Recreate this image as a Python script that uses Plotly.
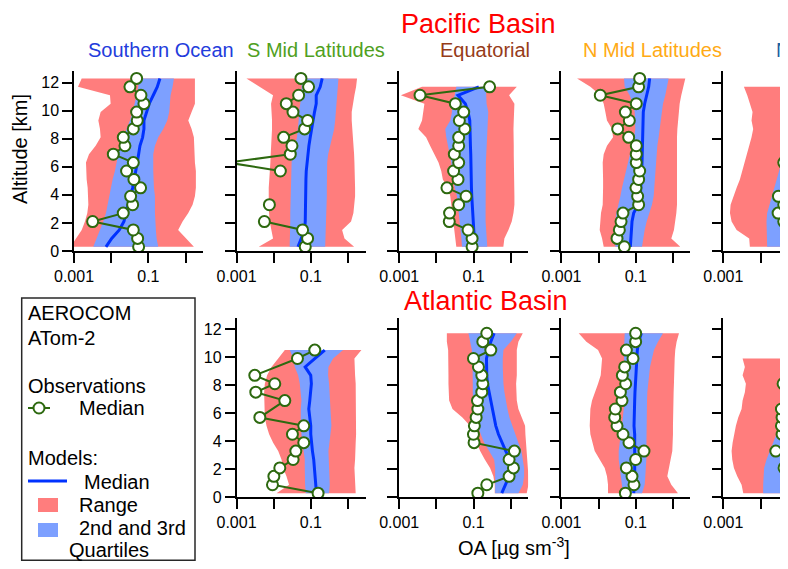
import plotly.graph_objects as go

# The page adds an 8 px body margin, so the figure is 16 px smaller than the window
W, H = 772, 553
OFF = 8
N = None
ALT = [0.3, 0.9, 1.5, 2.1, 2.7, 3.3, 3.9, 4.5, 5.1, 5.7, 6.3, 6.9, 7.5, 8.1, 8.7, 9.3, 9.9, 10.5, 11.1, 11.7, 12.3]

# ---------------- Pacific Basin ----------------
# Southern Ocean
pso_min = [0.0008, 0.0011, 0.00161, 0.00197, 0.00228, 0.00243, 0.00243, 0.00233, 0.00219, 0.0021, 0.0021, 0.00253, 0.00382, 0.0052, 0.00499, 0.00451, 0.0052, 0.00966, 0.00927, 0.00128, 0.00161]
pso_q1 = [0.0033, 0.00424, 0.00499, 0.00614, 0.00723, 0.00786, 0.00889, 0.00986, 0.0109, 0.0126, 0.014, 0.0155, 0.0172, 0.0211, 0.0259, 0.0319, 0.0377, 0.0435, 0.0482, 0.0535, 0.0535]
pso_med = [0.00723, 0.0103, 0.0165, 0.022, 0.0249, 0.0288, 0.0333, 0.0377, 0.0417, 0.0462, 0.0502, 0.0546, 0.0593, 0.0698, 0.0759, 0.0759, 0.0895, 0.105, 0.135, 0.173, 0.204]
pso_q3 = [0.184, 0.166, 0.159, 0.153, 0.150, 0.150, 0.150, 0.141, 0.135, 0.135, 0.135, 0.135, 0.150, 0.184, 0.251, 0.321, 0.363, 0.379, 0.395, 0.447, 0.485]
pso_max = [1.67, 1.02, 0.63, 0.83, 1.18, 1.54, 1.78, 1.89, 1.89, 1.89, 1.78, 1.72, 1.67, 1.67, 1.45, 1.18, 1.45, 1.78, 1.78, 1.78, 1.78]
pso_obs = [0.0546, 0.0513, 0.0393, 0.00317, 0.0211, 0.0377, 0.0333, 0.0617, 0.0408, 0.0259, 0.0393, 0.0114, 0.0234, 0.0211, 0.0393, 0.0502, 0.0482, 0.0759, 0.063, 0.0319, 0.0482]

# S Mid Latitudes
psm_min = [0.00396, 0.0096, 0.00866, 0.00781, 0.0075, 0.00735, 0.00735, 0.00735, 0.0075, 0.00781, 0.00814, 0.00831, 0.00849, 0.00866, 0.00902, 0.00902, 0.00884, 0.00849, 0.0096, 0.0044, 0.00185]
psm_q1 = [0.0268, 0.0268, 0.0279, 0.0279, 0.0279, 0.0285, 0.0285, 0.0291, 0.0291, 0.0297, 0.0303, 0.0316, 0.0365, 0.0422, 0.0449, 0.0468, 0.0477, 0.0518, 0.0551, 0.0574, 0.0574]
psm_med = [0.0449, 0.0551, 0.0676, 0.0705, 0.0705, 0.0705, 0.0719, 0.0719, 0.0735, 0.075, 0.0781, 0.0832, 0.0884, 0.096, 0.104, 0.113, 0.125, 0.139, 0.139, 0.178, 0.201]
psm_q3 = [0.242, 0.247, 0.258, 0.258, 0.263, 0.268, 0.268, 0.268, 0.268, 0.268, 0.274, 0.291, 0.330, 0.373, 0.422, 0.449, 0.468, 0.497, 0.508, 0.529, 0.551]
psm_max = [1.45, 0.80, 0.69, 1.2, 1.39, 1.48, 1.54, 1.54, 1.54, 1.51, 1.48, 1.45, 1.39, 1.33, 1.28, 1.25, 1.25, 1.33, 1.48, 1.64, 1.74]
psm_obs = [0.0705, 0.0815, 0.0598, 0.00562, N, 0.00766, N, N, N, 0.0151, 0.0006, 0.0279, 0.031, 0.0185, 0.0676, 0.0815, 0.033, 0.0218, 0.0468, 0.0866, 0.054]

# Equatorial
peq_min = [0.0343, 0.033, 0.031, 0.029, 0.0267, 0.0251, 0.0236, 0.0204, 0.0149, 0.0135, 0.0114, 0.0089, 0.00678, 0.00528, 0.00327, 0.00411, 0.00447, 0.00476, 0.00111, 0.00411, N]
peq_q1 = [0.0489, 0.0469, 0.0441, 0.0423, 0.0406, 0.0381, 0.0358, 0.031, 0.0279, 0.0262, 0.0251, 0.0226, 0.0204, 0.0184, 0.0173, 0.0236, 0.0262, 0.0262, 0.031, 0.0343, N]
peq_med = [0.101, 0.105, 0.101, 0.0971, 0.0931, 0.0912, 0.0893, 0.0875, 0.0875, 0.0857, 0.0839, 0.0839, 0.0822, 0.0822, 0.0789, 0.0789, 0.0711, 0.06, 0.038, 0.138, N]
peq_q3 = [0.233, 0.223, 0.214, 0.21, 0.21, 0.21, 0.205, 0.205, 0.205, 0.21, 0.214, 0.219, 0.223, 0.233, 0.233, 0.238, 0.248, 0.223, 0.214, 0.214, N]
peq_max = [0.631, 0.672, 0.863, 1.06, 1.18, 1.25, 1.25, 1.23, 1.23, 1.2, 1.2, 1.2, 1.2, 1.18, 1.18, 1.2, 1.25, 1.25, 0.899, 1.45, N]
peq_obs = [0.0912, 0.0912, 0.0711, 0.0222, 0.0226, 0.0397, 0.0628, 0.0192, 0.0381, 0.029, 0.0397, 0.0303, 0.0397, 0.0397, 0.0578, 0.0414, 0.0542, 0.0323, 0.00363, 0.269, N]

# N Mid Latitudes
pnm_min = [0.0137, 0.0124, 0.0107, 0.0111, 0.0116, 0.0129, 0.0132, 0.0132, 0.0132, 0.0132, 0.0129, 0.0137, 0.0168, 0.0244, 0.023, 0.0168, 0.0152, 0.0137, 0.0111, 0.00601, 0.00264]
pnm_q1 = [0.0282, 0.0271, 0.0271, 0.0282, 0.03, 0.0333, 0.0385, 0.0426, 0.0472, 0.0524, 0.0593, 0.0684, 0.0791, 0.0895, 0.0971, 0.0971, 0.0933, 0.0841, 0.0684, 0.0502, 0.0482]
pnm_med = [0.0713, 0.0728, 0.0759, 0.0791, 0.0877, 0.115, 0.132, 0.138, 0.141, 0.144, 0.147, 0.15, 0.153, 0.156, 0.159, 0.163, 0.159, 0.173, 0.2, 0.222, 0.236]
pnm_q3 = [0.147, 0.156, 0.173, 0.196, 0.236, 0.272, 0.302, 0.315, 0.321, 0.328, 0.342, 0.356, 0.379, 0.411, 0.437, 0.466, 0.485, 0.538, 0.621, 0.689, 0.764]
pnm_max = [1.57, 0.9, 1.06, 1.15, 1.23, 1.28, 1.28, 1.25, 1.23, 1.23, 1.23, 1.25, 1.28, 1.28, 1.31, 1.36, 1.42, 1.51, 1.67, 1.85, 2.14]
pnm_obs = [0.0492, 0.0313, 0.0361, 0.0401, 0.0453, 0.119, 0.112, 0.101, 0.119, 0.127, 0.103, 0.103, 0.103, 0.0643, 0.0326, 0.067, 0.0524, 0.103, 0.0111, 0.119, 0.127]

# N High Latitudes (partly outside the picture)
pnh_min = [0.00518, 0.00497, 0.00228, 0.00167, 0.00151, 0.00157, 0.00185, 0.00228, 0.00279, 0.0031, 0.00358, 0.00422, 0.00497, 0.00574, 0.00636, 0.00574, 0.00611, 0.00518, 0.0044, 0.00358, N]
pnh_q1 = [0.0151, 0.0145, 0.0145, 0.0145, 0.0151, 0.0171, 0.0197, 0.0228, 0.0268, 0.0316, 0.0365, 0.0422, 0.0477, 0.0518, 0.0551, 0.0551, 0.0529, 0.0497, 0.0477, 0.0449, N]
pnh_med = [0.046, 0.048, 0.055, 0.065, 0.075, 0.08, 0.085, 0.09, 0.095, 0.1, 0.1, 0.1, 0.1, 0.1, 0.11, 0.11, 0.11, 0.11, 0.11, 0.12, N]
pnh_q3 = [0.25, 0.25, 0.26, 0.27, 0.28, 0.3, 0.3, 0.3, 0.3, 0.3, 0.3, 0.3, 0.3, 0.32, 0.34, 0.35, 0.35, 0.36, 0.38, 0.4, N]
pnh_max = [1.2, 1.1, 1.2, 1.3, 1.3, 1.3, 1.3, 1.3, 1.3, 1.3, 1.3, 1.3, 1.3, 1.3, 1.3, 1.3, 1.4, 1.4, 1.4, 1.5, N]
pnh_obs = [0.09, 0.085, 0.08, 0.0422, 0.0297, 0.0422, 0.0303, 0.085, 0.09, 0.095, 0.0422, 0.09, 0.1, 0.1, 0.11, 0.1, 0.1, 0.1, 0.11, 0.12, N]

# ---------------- Atlantic Basin ----------------
# S Mid Latitudes
asm_min = [0.0119, 0.0259, 0.022, 0.0179, 0.0162, 0.0132, 0.00966, 0.00754, 0.0064, 0.00577, 0.00553, 0.00553, 0.00553, 0.00577, 0.00666, 0.00871, 0.0132, 0.0199, N, N, N]
asm_q1 = [0.0728, 0.0698, 0.0684, 0.0684, 0.0684, 0.0656, 0.0593, 0.0557, 0.0535, 0.0524, 0.0535, 0.0557, 0.0524, 0.0502, 0.0453, 0.0369, 0.0333, 0.0271, N, N, N]
asm_med = [0.141, 0.135, 0.132, 0.127, 0.119, 0.11, 0.103, 0.0991, 0.0991, 0.0933, 0.0877, 0.0933, 0.0991, 0.103, 0.099, 0.07, 0.127, 0.236, N, N, N]
asm_q3 = [0.308, 0.321, 0.315, 0.302, 0.302, 0.296, 0.321, 0.335, 0.356, 0.349, 0.342, 0.328, 0.321, 0.308, 0.29, 0.296, 0.395, 0.733, N, N, N]
asm_max = [1.6, 1.54, 1.48, 1.48, 1.54, 1.54, 1.6, 1.64, 1.64, 1.64, 1.64, 1.64, 1.6, 1.6, 1.54, 1.54, 1.48, 2.28, N, N, N]
asm_obs = [0.156, 0.00927, 0.0101, 0.0146, 0.0333, 0.0393, 0.0643, 0.0319, 0.0643, 0.00424, N, 0.0199, 0.0033, 0.0107, 0.0031, N, 0.0435, 0.127, N, N, N]

# Equatorial
aeq_min = [0.37, 0.37, 0.34, 0.277, 0.2, 0.15, 0.122, 0.11, 0.08, 0.05, 0.0271, 0.022, 0.0211, 0.0211, 0.0211, 0.0211, 0.0211, 0.0207, 0.0191, 0.0191, N]
aeq_q1 = [0.379, 0.379, 0.379, 0.379, 0.356, 0.261, 0.192, 0.156, 0.13, 0.115, 0.105, 0.0971, 0.095, 0.095, 0.0971, 0.095, 0.0933, 0.0895, 0.0807, 0.0728, N]
aeq_med = [0.572, 0.703, 0.9, 0.998, 0.938, 0.733, 0.572, 0.466, 0.395, 0.356, 0.321, 0.278, 0.251, 0.236, 0.226, 0.222, 0.222, 0.251, 0.29, 0.356, N]
aeq_q3 = [1.6, 2.1, 2.28, 2.28, 2.1, 1.93, 1.6, 1.31, 1.08, 0.919, 0.813, 0.733, 0.675, 0.634, 0.608, 0.608, 0.608, 0.634, 0.998, 1.45, N]
aeq_max = [2.68, 2.98, 2.98, 2.86, 2.68, 2.58, 2.52, 2.47, 2.42, 1.97, 1.6, 1.45, 1.39, 1.39, 1.45, 1.45, 1.45, 1.45, 1.6, 2.1, N]
aeq_obs = [0.13, 0.226, 0.9, 1.18, 0.9, 1.25, 0.103, 0.0991, 0.105, 0.117, 0.13, 0.127, 0.166, 0.177, 0.166, 0.135, 0.0991, 0.29, 0.177, 0.226, N]

# N Mid Latitudes
anm_min = [0.0179, 0.0179, 0.0168, 0.0146, 0.0107, 0.00786, 0.00681, 0.00601, 0.00577, 0.00577, 0.00601, 0.00666, 0.00786, 0.00966, 0.0114, 0.0121, 0.0124, 0.00966, 0.00469, 0.00292, N]
anm_q1 = [0.0453, 0.0435, 0.0408, 0.0369, 0.0347, 0.0347, 0.0369, 0.0393, 0.0426, 0.0453, 0.0472, 0.0502, 0.0524, 0.0535, 0.0524, 0.0502, 0.0482, 0.0482, 0.0482, 0.0502, N]
anm_med = [0.0877, 0.0933, 0.0933, 0.0933, 0.0971, 0.0971, 0.0971, 0.0933, 0.0895, 0.0895, 0.0914, 0.0933, 0.095, 0.0971, 0.0991, 0.101, 0.105, 0.11, 0.119, 0.141, N]
anm_q3 = [0.147, 0.173, 0.18, 0.188, 0.192, 0.192, 0.192, 0.192, 0.196, 0.196, 0.2, 0.2, 0.204, 0.213, 0.222, 0.241, 0.272, 0.308, 0.395, 0.538, N]
anm_max = [1.36, 0.9, 0.703, 0.764, 0.863, 0.958, 0.998, 0.998, 0.998, 0.998, 1.02, 1.04, 1.04, 1.06, 1.06, 1.08, 1.11, 1.15, 1.25, 1.45, N]
anm_obs = [0.0524, 0.0895, 0.0791, 0.0557, 0.0991, 0.166, 0.0656, 0.0453, 0.0313, 0.0271, 0.0282, 0.0426, 0.0385, 0.0535, 0.0435, 0.0502, 0.0841, 0.0557, 0.0991, 0.0991, N]

# N High Latitudes (partly outside the picture)
anh_min = [0.00344, 0.0031, 0.00237, 0.00193, 0.00174, 0.00167, 0.00178, 0.00193, 0.00218, 0.00252, 0.0031, 0.0033, 0.0038, 0.00405, 0.0033, 0.0038, 0.0033, N, N, N, N]
anh_q1 = [0.0118, 0.0118, 0.012, 0.0125, 0.0145, 0.0178, 0.0218, 0.0268, 0.033, 0.0405, 0.0477, 0.0551, 0.0611, 0.0684, 0.0684, 0.0684, 0.0684, N, N, N, N]
anh_med = [0.045, 0.046, 0.05, 0.055, 0.06, 0.065, 0.07, 0.075, 0.08, 0.085, 0.09, 0.095, 0.1, 0.1, 0.1, 0.1, 0.1, N, N, N, N]
anh_q3 = [0.25, 0.26, 0.27, 0.28, 0.3, 0.3, 0.3, 0.3, 0.3, 0.3, 0.3, 0.3, 0.3, 0.3, 0.3, 0.3, 0.3, N, N, N, N]
anh_max = [1.2, 1.2, 1.2, 1.2, 1.2, 1.2, 1.2, 1.2, 1.2, 1.2, 1.2, 1.2, 1.2, 1.2, 1.2, 1.2, 1.2, N, N, N, N]
anh_obs = [0.09, 0.09, 0.09, 0.043, 0.085, 0.0258, 0.085, 0.038, 0.0365, 0.038, 0.0365, 0.085, 0.09, 0.0405, 0.09, 0.09, 0.09, N, N, N, N]

X_LABEL_TICKS = [0.001, 0.1]
X_LABEL_TEXT = ["0.001", "0.1"]
X_MINOR_TICKS = [0.01, 1]
Y_TICKS = [0, 2, 4, 6, 8, 10, 12]

RED = "rgb(255,125,125)"
BLUE_BAND = "rgb(125,160,255)"
BLUE_LINE = "rgb(0,50,255)"
GREEN = "rgb(45,105,15)"
FONT = "Liberation Sans, Arial, sans-serif"

# panel layout, in window pixels
DEC = 37.2           # px per decade
PW = 129             # panel width px
ROW_BOTTOM = [251.0, 497.4]
KM = 14.03
YTOP = 12.8
COL_LEFT = [74.0, 236.5, 399.2, 561.4, 723.3]


def fx(t):
    return (t - OFF) / W


def fy(t):
    return 1 - (t - OFF) / H


panels = [
    (0, 0, pso_min, pso_q1, pso_med, pso_q3, pso_max, pso_obs, False, True),
    (0, 1, psm_min, psm_q1, psm_med, psm_q3, psm_max, psm_obs, False, False),
    (0, 2, peq_min, peq_q1, peq_med, peq_q3, peq_max, peq_obs, False, False),
    (0, 3, pnm_min, pnm_q1, pnm_med, pnm_q3, pnm_max, pnm_obs, False, False),
    (0, 4, pnh_min, pnh_q1, pnh_med, pnh_q3, pnh_max, pnh_obs, False, False),
    (1, 1, asm_min, asm_q1, asm_med, asm_q3, asm_max, asm_obs, True, True),
    (1, 2, aeq_min, aeq_q1, aeq_med, aeq_q3, aeq_max, aeq_obs, False, False),
    (1, 3, anm_min, anm_q1, anm_med, anm_q3, anm_max, anm_obs, False, False),
    (1, 4, anh_min, anh_q1, anh_med, anh_q3, anh_max, anh_obs, False, False),
]


def band(lo, hi):
    pts = [(a, l, h) for a, l, h in zip(ALT, lo, hi) if l is not None and h is not None]
    xs = [p[2] for p in pts] + [p[1] for p in reversed(pts)]
    ys = [p[0] for p in pts] + [p[0] for p in reversed(pts)]
    return xs, ys


fig = go.Figure()
layout = {}
for i, (row, col, mn, q1, med, q3, mx, obs, gaps, ylab) in enumerate(panels, start=1):
    xa, ya = f"x{i}", f"y{i}"
    xs, ys = band(mn, mx)
    fig.add_trace(go.Scatter(x=xs, y=ys, fill="toself", fillcolor=RED, line=dict(width=0),
                             mode="lines", hoverinfo="skip", showlegend=False, xaxis=xa, yaxis=ya))
    xs, ys = band(q1, q3)
    fig.add_trace(go.Scatter(x=xs, y=ys, fill="toself", fillcolor=BLUE_BAND, line=dict(width=0),
                             mode="lines", hoverinfo="skip", showlegend=False, xaxis=xa, yaxis=ya))
    fig.add_trace(go.Scatter(x=med, y=ALT, mode="lines", line=dict(color=BLUE_LINE, width=3),
                             showlegend=False, xaxis=xa, yaxis=ya))
    fig.add_trace(go.Scatter(x=obs, y=ALT, mode="lines+markers", connectgaps=gaps,
                             line=dict(color=GREEN, width=2),
                             marker=dict(size=11, color="white", line=dict(color=GREEN, width=2)),
                             showlegend=False, xaxis=xa, yaxis=ya))

    left = COL_LEFT[col]
    right = min(W + OFF, left + PW)
    xr_top = -3 + (right - left) / DEC
    bot = ROW_BOTTOM[row]
    top = bot - YTOP * KM
    key = "" if i == 1 else str(i)
    layout["xaxis" + key] = dict(
        type="log", domain=[fx(left), min(1.0, fx(right))], range=[-3, xr_top], anchor=ya,
        tickmode="array", tickvals=X_LABEL_TICKS, ticktext=X_LABEL_TEXT,
        ticks="outside", ticklen=10, tickwidth=1.5, tickcolor="black",
        minor=dict(tickmode="array", tickvals=X_MINOR_TICKS, ticks="outside", ticklen=10,
                   tickwidth=1.5, tickcolor="black", showgrid=False),
        showline=True, linecolor="black", linewidth=1.5,
        showgrid=False, zeroline=False, automargin=False,
        tickfont=dict(size=16, color="black", family=FONT))
    layout["yaxis" + key] = dict(
        domain=[fy(bot), fy(top)], range=[0, YTOP], anchor=xa,
        tickvals=Y_TICKS, ticks="outside", ticklen=10, tickwidth=1.5, tickcolor="black",
        showline=True, linecolor="black", linewidth=1.5, showgrid=False, zeroline=False,
        automargin=False, showticklabels=ylab, tickfont=dict(size=16, color="black", family=FONT))

ann = []


def text(s, x, y, size, color="black", xanchor="center", angle=0):
    ann.append(dict(text=s, x=fx(x), y=fy(y), xref="paper", yref="paper", showarrow=False,
                    xanchor=xanchor, yanchor="middle", textangle=angle,
                    font=dict(size=size, color=color, family=FONT)))


text("Pacific Basin", 478, 24, 27, "rgb(255,0,0)")
text("Atlantic Basin", 486, 301, 27, "rgb(255,0,0)")
text("Southern Ocean", 161, 50, 20, "rgb(35,60,220)")
text("S Mid Latitudes", 315.5, 50, 20, "rgb(80,160,30)")
text("Equatorial", 485, 50, 20, "rgb(150,60,25)")
text("N Mid Latitudes", 652, 50, 20, "rgb(255,170,20)")
text("N High Latitudes", 774, 50, 20, "rgb(25,95,160)", xanchor="left")
text("Altitude [km]", 20, 149, 20, angle=-90)
text("OA [µg sm<sup>-3</sup>]", 514, 546, 20)

# legend box contents
text("AEROCOM", 26, 313, 20, xanchor="left")
text("ATom-2", 26, 338, 20, xanchor="left")
text("Observations", 26, 386, 20, xanchor="left")
text("Median", 77, 408, 20, xanchor="left")
text("Models:", 26, 458, 20, xanchor="left")
text("Median", 82, 482, 20, xanchor="left")
text("Range", 77, 505, 20, xanchor="left")
text("2nd and 3rd", 77, 528, 20, xanchor="left")
text("Quartiles", 67, 550, 20, xanchor="left")


def rect_line(x0, x1, y0, y1, **kw):
    return dict(xref="paper", yref="paper", x0=fx(x0), x1=fx(x1), y0=max(0.0015, fy(y0)), y1=fy(y1), **kw)


shapes = [
    rect_line(21.7, 195, 567.5, 298, type="rect", line=dict(color="rgb(40,40,40)", width=1.5),
              fillcolor="rgba(0,0,0,0)"),
    rect_line(28, 50, 408, 408, type="line", line=dict(color=GREEN, width=2)),
    rect_line(33.5, 44.5, 413.5, 402.5, type="circle", line=dict(color=GREEN, width=2), fillcolor="white"),
    rect_line(28, 67, 481, 481, type="line", line=dict(color=BLUE_LINE, width=3)),
    rect_line(38, 58, 512, 498, type="rect", line=dict(width=0), fillcolor=RED),
    rect_line(38, 58, 537, 523, type="rect", line=dict(width=0), fillcolor=BLUE_BAND),
]

fig.update_layout(
    width=W, height=H, autosize=False,
    margin=dict(l=0, r=0, t=0, b=0, pad=0),
    paper_bgcolor="white", plot_bgcolor="white",
    font=dict(family=FONT, color="black"),
    showlegend=False,
    annotations=ann, shapes=shapes,
    **layout,
)

fig.write_html("out.html")
